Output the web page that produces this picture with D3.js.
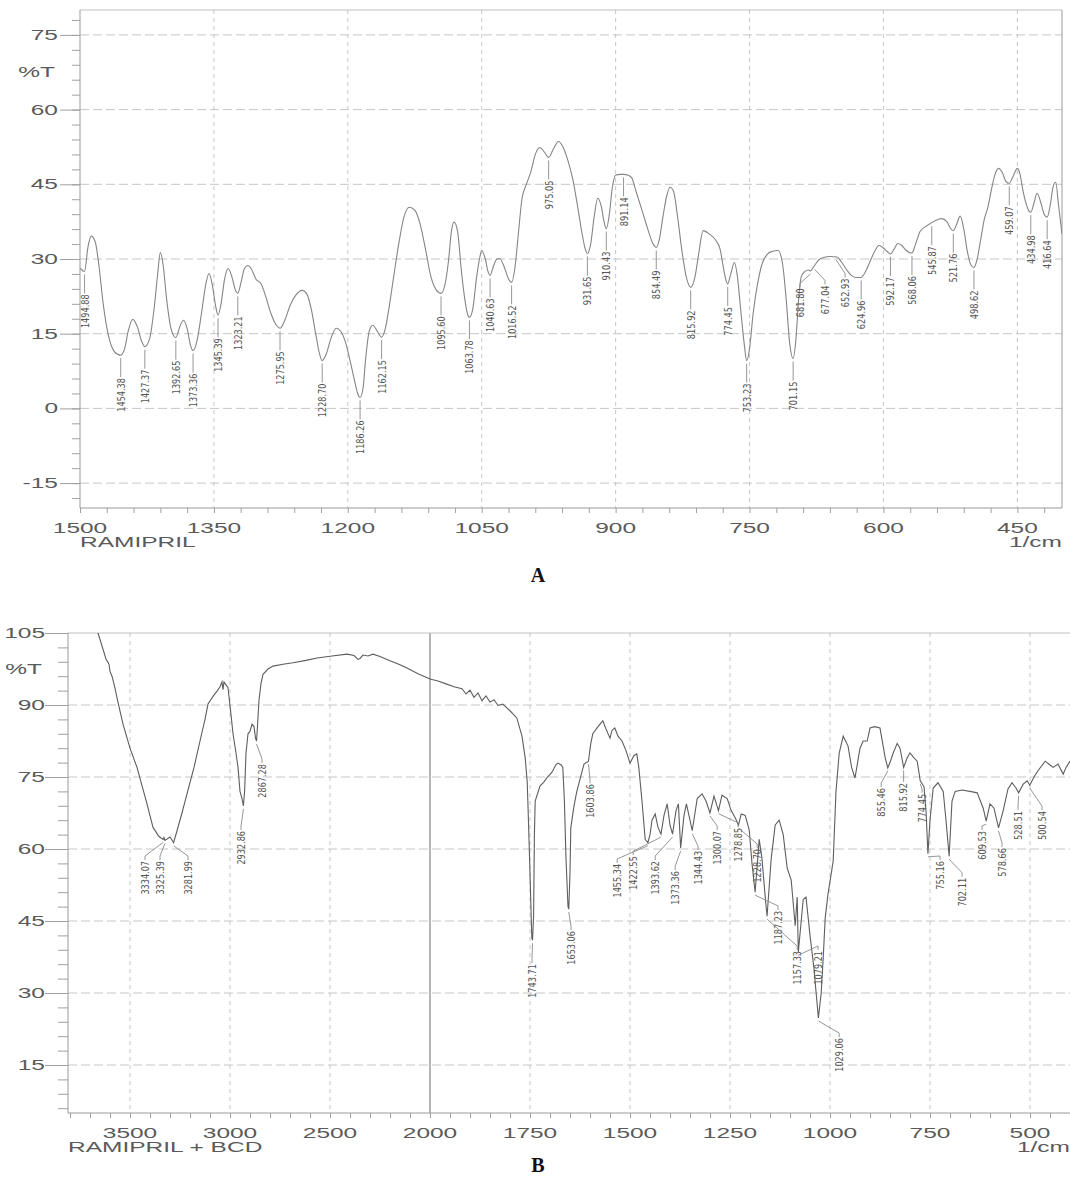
<!DOCTYPE html>
<html>
<head>
<meta charset="utf-8">
<script src="https://cdn.jsdelivr.net/npm/d3@7"></script>
<style>
body { margin: 0; background: #fff; }
svg text { font-family: "Liberation Sans", Arial, sans-serif; }
svg text.peak { font-family: "Liberation Sans Narrow", "Arial Narrow", "DejaVu Sans Condensed", sans-serif; }
svg text.letter { font-family: "Liberation Serif", "Times New Roman", serif; font-weight: bold; }
</style>
</head>
<body>
<div id="chart"></div>
<script>
// Width and height
var chart_width  = 1070;
var chart_height = 1182;

// ---- A : RAMIPRIL (1500 - 400 1/cm)
var wavenumberA = [
  1500, 1495, 1491, 1487.5, 1483, 1479, 1474, 1468, 1462, 1457, 1454.4, 1450, 1446, 1441, 1436, 1431, 1427.4,
  1422, 1417, 1413, 1410, 1407, 1403, 1398, 1392.7, 1388, 1384, 1380, 1376, 1373.4, 1369, 1364, 1359,
  1355.5, 1352, 1348, 1345.4, 1342, 1338, 1334, 1330, 1326, 1323.2, 1320, 1316, 1312, 1308, 1303, 1297,
  1292, 1286, 1280, 1276, 1271, 1265, 1258, 1251, 1246, 1241, 1236, 1232, 1228.7, 1224, 1219, 1213,
  1208, 1203, 1198, 1193, 1189, 1186.3, 1183, 1180, 1176, 1172, 1167, 1162.2, 1158, 1154, 1149, 1143,
  1137, 1131, 1125, 1119, 1113, 1107, 1101, 1095.6, 1091, 1087, 1084, 1081, 1077, 1073, 1069, 1066,
  1063.8, 1060, 1056, 1052, 1050, 1046, 1043, 1040.6, 1037, 1033, 1030, 1025, 1020, 1016.5, 1013, 1009,
  1005, 1000, 995, 990, 985, 980, 975, 970, 964, 959, 953, 948, 943, 938, 934, 931.7, 928, 924, 920,
  916, 913, 910.4, 907, 904, 900, 895, 891, 886, 882, 877, 870, 864, 858, 854.5, 851, 847, 843, 839,
  835, 831, 826, 821, 815.9, 811, 807, 802, 795, 788, 783, 779, 776, 774.5, 771, 767, 764, 760, 756,
  753.2, 750, 746, 741, 736, 730, 725, 718, 713, 709, 705, 701.2, 698, 695, 692, 688, 684, 681.8, 678,
  672, 667, 660, 652, 647, 641, 636, 631, 625, 620, 615, 610, 605, 600, 596, 592.2, 588, 584, 580, 575,
  571, 568.1, 564, 559, 553, 547, 541, 535, 529, 525, 521.8, 518, 514, 510, 506, 502, 498.6, 495, 491,
  487, 483, 479, 475, 471, 467, 463, 459.1, 455, 450, 447, 444, 440, 437, 435, 431, 428, 424, 420,
  416.6, 413, 410, 407, 404, 400
];
var transmittanceA = [
  28.2, 27.5, 32.5, 34.6, 33.5, 29, 21, 14.5, 11.5, 10.8, 10.7, 12, 15.5, 17.9, 16.5, 13.5, 12.4,
  14, 20, 27, 31.3, 29, 22, 16, 14.2, 16.5, 17.7, 16, 12.5, 11.6, 13.5, 19, 25,
  27.1, 25, 20.5, 18.7, 21, 26, 28.1, 26.5, 23.8, 23.1, 25, 28, 28.7, 28, 26, 25,
  22.5, 19, 16.7, 16.1, 17.5, 20.5, 22.8, 23.7, 23, 20, 15, 11.2, 9.6, 11, 14, 16.1,
  15.5, 13.5, 10, 6, 3, 2.2, 4, 10, 15.5, 16.7, 15.5, 14.3, 16, 20, 26, 33,
  38.5, 40.4, 39.8, 37, 32, 26.5, 23.8, 23.1, 25, 30, 35.5, 37.4, 35.5, 28, 22, 19,
  18.3, 20, 26, 30.5, 31.7, 30, 27.5, 26.7, 28.5, 30, 30.1, 28.5, 26, 25.3, 28, 35,
  42, 45, 47.5, 51, 52.4, 51.5, 50.4, 52, 53.6, 52.5, 49.5, 46, 41, 35.5, 32, 31.1, 33, 38.5, 42.2,
  40.5, 37.5, 36.1, 39, 44, 46.8, 47, 47, 46.8, 46.3, 43.5, 39.5, 36, 33, 32.3, 34, 38.5, 42.5, 44.4,
  43.5, 39, 32, 26.5, 24.3, 26.5, 31, 35.7, 35, 33.8, 32, 28, 25.5, 25, 27, 29.3, 27, 20, 13,
  9.6, 12, 19, 25, 29, 31, 31.5, 31.7, 29, 22, 13, 10, 14, 22, 26.5, 27.5, 27.8, 27.6, 28.5,
  29.9, 30.3, 30.5, 30.4, 29.4, 27.8, 26.7, 26.3, 26.3, 27.5, 29.5, 31.5, 32.7, 32.2, 31.5, 31, 32, 33.1, 32.8, 31.8,
  31.3, 31.2, 33, 35.5, 36.5, 37.2, 37.8, 38.1, 37.5, 36.2, 35.7, 37, 38.6, 36, 31.5, 28.8, 28.3, 30, 34,
  38, 40.4, 44, 47, 48.2, 47.4, 45.6, 45.2, 46.5, 48.2, 47, 44, 41, 39.6, 39.4, 41.5, 43.2, 41.5, 39,
  38.4, 41, 44.5, 45.4, 41, 35
];
var peaksA = [
  1494.88, 1454.38, 1427.37, 1392.65, 1373.36, 1345.39, 1323.21, 1275.95, 1228.70, 1186.26, 1162.15,
  1095.60, 1063.78, 1040.63, 1016.52, 975.05, 931.65, 910.43, 891.14, 854.49, 815.92, 774.45, 753.23,
  701.15, 681.80, 677.04, 652.93, 624.96, 592.17, 568.06, 545.87, 521.76, 498.62, 459.07, 434.98, 416.64
];

// ---- B : RAMIPRIL + BCD (3800 - 400 1/cm)
var wavenumberB = [
  3700, 3660, 3620, 3605, 3600, 3590, 3575, 3565, 3535, 3500, 3465, 3415, 3385, 3355, 3334.07, 3330,
  3325.39, 3300, 3281.99, 3265, 3240, 3215, 3180, 3150, 3125, 3110, 3085, 3065, 3050, 3040, 3035, 3030,
  3020, 3010, 2995, 2985, 2970, 2960, 2950, 2940, 2932.86, 2927, 2920, 2910, 2900, 2890, 2880, 2872,
  2867.28, 2862, 2855, 2845, 2835, 2810, 2785, 2735, 2685, 2620, 2565, 2490, 2415, 2380, 2360, 2350,
  2335, 2310, 2285, 2250, 2200, 2150, 2115, 2060, 2000, 1980, 1960, 1940, 1920, 1910, 1900, 1890,
  1880, 1870, 1860, 1850, 1840, 1830, 1818, 1800, 1783, 1770, 1762, 1757, 1755, 1750, 1745.5, 1743.71,
  1741, 1739, 1737, 1725, 1715, 1708, 1695, 1685, 1680, 1672, 1668, 1664, 1660, 1655, 1653.06, 1650,
  1648, 1640, 1633, 1622, 1615, 1603.86, 1598, 1593, 1580, 1568, 1560, 1550, 1545, 1538, 1530, 1520,
  1510, 1500, 1490, 1483, 1478, 1470, 1462, 1455.34, 1450, 1445, 1437, 1430, 1422.55, 1415, 1407, 1400,
  1393.62, 1385, 1379, 1373.36, 1365, 1359, 1350, 1344.43, 1332, 1320, 1310, 1300.07, 1290, 1278.85, 1270, 1257,
  1247, 1237, 1228.70, 1222, 1212, 1202, 1195, 1187.23, 1177, 1170, 1162, 1157.33, 1147, 1137, 1127, 1117,
  1107, 1097, 1087, 1082, 1079.21, 1067, 1060, 1050, 1040, 1029.06, 1022, 1017, 1012, 1005, 992, 985,
  977, 967, 955, 946, 937.5, 930, 925, 917, 907, 900, 888, 875, 862, 855.46, 848, 842,
  832, 825, 815.92, 807, 800, 790, 782, 774.45, 765, 760, 755.16, 750, 742, 730, 717, 710,
  702.11, 695, 687, 670, 650, 632, 617, 609.53, 600, 590, 578.66, 567, 555, 545, 535, 528.51,
  517, 507, 500.54, 490, 480, 462, 450, 442, 430, 417, 410, 400
];
var transmittanceB = [
  108, 105, 99.6, 98.5, 97, 96, 93.5, 91.5, 86, 81, 77, 69.4, 64.5, 62.6, 62.0, 62.4,
  61.8, 62.5, 61.3, 63.8, 67.5, 71.5, 77, 82.5, 87, 90.2, 91.8, 92.9, 93.8, 94.8, 93.2, 94.8,
  94.2, 93.6, 88, 84, 80, 77, 72, 70.5, 69, 72, 80, 84, 84.5, 86, 85.5, 83,
  82.5, 86, 91, 94.5, 96.4, 97.5, 98.1, 98.5, 98.8, 99.3, 99.8, 100.2, 100.6, 100.3, 99.5, 99.7,
  100.4, 100.2, 100.6, 100.1, 99.2, 98.4, 97.7, 96.5, 95.4, 95, 94.4, 93.8, 93.4, 92.3, 93.1, 91.6,
  92.5, 90.9, 91.9, 90.6, 91.1, 89.9, 90.2, 88.8, 87.3, 83.5, 79, 74, 69, 55, 41.5, 41,
  46, 63, 70, 73.1, 74, 74.8, 76, 77.6, 77.9, 77.5, 77, 70, 58, 48, 47.5, 55,
  64.4, 69, 72, 75.5, 77.7, 78.3, 82, 84, 85.5, 86.7, 85, 83.1, 84.7, 85.2, 83.5, 82.5,
  80.5, 77.9, 79.5, 79.8, 77, 70, 62, 61.3, 63, 66, 67.3, 64.5, 63.1, 67, 69.4, 65,
  63.1, 68, 69.4, 60.2, 67, 69.4, 66, 63.8, 70.5, 71.5, 70, 67.5, 71, 68, 71.2, 70.5,
  68, 66.5, 65, 67.3, 67, 64, 57, 51, 62, 58, 50, 46, 58, 65, 66, 63,
  56, 53.5, 44, 50, 38.5, 49.5, 50, 42, 35, 24.8, 30, 37.3, 45.6, 50.6, 57.5, 72,
  80, 83.5, 81.5, 77, 74.8, 78.5, 81, 82.5, 82.5, 85.2, 85.5, 85.2, 79, 76.9, 78.5, 80,
  82, 81, 77, 79, 80, 79, 78.3, 74.2, 73, 68, 59, 66, 72.7, 73.8, 72, 66,
  58.5, 70, 72, 72.3, 72, 71.7, 68.5, 65.8, 69.4, 68.5, 64.4, 68, 72.5, 73.8, 72.7, 71.7,
  73.5, 74.2, 73.3, 75, 76.3, 78.3, 77.5, 77, 77.7, 75.6, 77, 78.3
];
var peaksB = [
  3334.07, 3325.39, 3281.99, 2932.86, 2867.28, 1743.71, 1653.06, 1603.86, 1455.34, 1422.55, 1393.62,
  1373.36, 1344.43, 1300.07, 1278.85, 1228.70, 1187.23, 1157.33, 1079.21, 1029.06, 855.46, 815.92,
  774.45, 755.16, 702.11, 609.53, 578.66, 528.51, 500.54
];

// label placement (where the printer moved a label off its peak)
var labelMoveA = { 24: [693.5, 24.1], 25: [665.5, 24.7], 26: [643, 26.1] };
var labelWnB = [3425, 3350, 3210, 2945, 2840, 1745, 1647.5, 1600, 1532, 1492, 1437, 1387, 1330, 1282,
  1230, 1182, 1130, 1082, 1030, 977, 872, 817, 770, 725, 670, 620, 570, 530, 470];
var labelTopB = [57.5, 57.5, 57.5, 63.75, 77.7, 36, 42.9, 73.5, 56.9, 58.5, 57.5, 55.4, 59.6, 63.75,
  64.4, 60, 47.1, 38.75, 38.75, 20.6, 72.7, 73.75, 71.5, 57.5, 54, 63.75, 60.2, 67.9, 67.9];

var svg = d3.select("#chart")
    .append("svg")
    .attr("width", chart_width)
    .attr("height", chart_height);

var panels = [
  {
    id: 'A',
    x: d3.scaleLinear().domain([1500, 400]).range([80, 1062]),
    y: d3.scaleLinear().domain([-20, 80]).range([508, 10]),
    wn: wavenumberA, t: transmittanceA,
    xMajor: [1500, 1350, 1200, 1050, 900, 750, 600, 450],
    xGrid: [1350, 1200, 1050, 900, 750, 600, 450],
    xMinor: d3.range(1500, 400, -30),
    yMajor: [75, 60, 45, 30, 15, 0, -15],
    yMinor: d3.range(-18, 80, 3),
    yMajorLen: 20, yMinorLen: 8,
    labelGap: 22,
    pctT: 67.5,
    name: 'RAMIPRIL',
    rightBorder: true,
    smooth: true,
    stroke: '#858585',
    letterY: 582
  },
  {
    id: 'B',
    x: d3.scaleLinear().domain([3810, 2000, 400]).range([68, 430, 1070]),
    y: d3.scaleLinear().domain([5, 105]).range([1113, 633]),
    wn: wavenumberB, t: transmittanceB,
    xMajor: [3500, 3000, 2500, 2000, 1750, 1500, 1250, 1000, 750, 500],
    xGrid: [3500, 3000, 2500, 1750, 1500, 1250, 1000, 750, 500],
    xMinor: d3.range(3800, 2000, -100).concat(d3.range(2000, 399, -50)),
    yMajor: [105, 90, 75, 60, 45, 30, 15],
    yMinor: d3.range(6, 106, 3),
    yMajorLen: 23, yMinorLen: 10,
    labelGap: 23,
    pctT: 97.5,
    name: 'RAMIPRIL + BCD',
    rightBorder: false,
    smooth: false,
    stroke: '#5e5e5e',
    letterY: 1172
  }
];

panels.forEach(function(p) {
  var x = p.x, y = p.y;
  var xr = x.range(), x0 = xr[0], x1 = xr[xr.length - 1];
  var yBot = y.range()[0], yTop = y.range()[1];
  var g = svg.append('g').attr('id', 'panel' + p.id);

  // grid
  g.selectAll('.hgrid')
    .data(p.yMajor.filter(function(d) { return y(d) > yTop + 1; }))
    .enter().append('line')
    .attr('x1', x0).attr('x2', x1)
    .attr('y1', function(d) { return y(d); })
    .attr('y2', function(d) { return y(d); })
    .attr('stroke', '#c6c6c6')
    .attr('stroke-dasharray', '9,4');

  g.selectAll('.vgrid')
    .data(p.xGrid)
    .enter().append('line')
    .attr('x1', function(d) { return x(d); })
    .attr('x2', function(d) { return x(d); })
    .attr('y1', yTop).attr('y2', yBot)
    .attr('stroke', '#c6c6c6')
    .attr('stroke-dasharray', '4,4');

  if (p.id === 'B') {
    g.append('line')
      .attr('x1', x(2000)).attr('x2', x(2000))
      .attr('y1', yTop).attr('y2', yBot)
      .attr('stroke', '#8c8c8c').attr('stroke-width', 1.3);
  }

  // frame
  g.append('line').attr('x1', x0).attr('x2', x1).attr('y1', yTop).attr('y2', yTop)
    .attr('stroke', '#c0c0c0');
  g.append('line').attr('x1', x0).attr('x2', x1).attr('y1', yBot).attr('y2', yBot)
    .attr('stroke', '#9a9a9a');
  g.append('line').attr('x1', x0).attr('x2', x0).attr('y1', yTop).attr('y2', yBot)
    .attr('stroke', '#9a9a9a');
  if (p.rightBorder) {
    g.append('line').attr('x1', x1).attr('x2', x1).attr('y1', yTop).attr('y2', yBot)
      .attr('stroke', '#9a9a9a');
  }

  // ticks
  var tickParts = [
    g.append('g').attr('transform', 'translate(0,' + yBot + ')')
      .call(d3.axisBottom(x).tickValues(p.xMinor).tickSize(5).tickFormat('')),
    g.append('g').attr('transform', 'translate(' + x0 + ',0)')
      .call(d3.axisLeft(y).tickValues(p.yMinor).tickSize(p.yMinorLen).tickFormat('')),
    g.append('g').attr('transform', 'translate(' + x0 + ',0)')
      .call(d3.axisLeft(y).tickValues(p.yMajor).tickSize(p.yMajorLen).tickFormat(''))
  ];
  tickParts.forEach(function(a) {
    a.select('.domain').remove();
    a.selectAll('line').attr('stroke', '#a0a0a0');
  });

  // tick labels (the plotter font is stretched sideways)
  g.selectAll('.xlab')
    .data(p.xMajor)
    .enter().append('text')
    .attr('transform', function(d) { return 'translate(' + x(d) + ',' + (yBot + 25) + ') scale(1.75,1)'; })
    .attr('text-anchor', 'middle')
    .attr('font-size', 14)
    .attr('fill', '#5a5a5a')
    .text(function(d) { return d; });

  g.selectAll('.ylab')
    .data(p.yMajor)
    .enter().append('text')
    .attr('transform', function(d) { return 'translate(' + (x0 - p.labelGap) + ',' + (y(d) + 5) + ') scale(1.75,1)'; })
    .attr('text-anchor', 'end')
    .attr('font-size', 14)
    .attr('fill', '#5a5a5a')
    .text(function(d) { return d; });

  g.append('text')
    .attr('transform', 'translate(' + (x0 - p.labelGap - 3) + ',' + (y(p.pctT) + 5) + ') scale(1.75,1)')
    .attr('text-anchor', 'end')
    .attr('font-size', 14)
    .attr('fill', '#5a5a5a')
    .text('%T');

  g.append('text')
    .attr('transform', 'translate(' + x0 + ',' + (yBot + 39) + ') scale(1.75,1)')
    .attr('font-size', 14)
    .attr('fill', '#5a5a5a')
    .text(p.name);

  g.append('text')
    .attr('transform', 'translate(' + x1 + ',' + (yBot + 39) + ') scale(1.75,1)')
    .attr('text-anchor', 'end')
    .attr('font-size', 14)
    .attr('fill', '#5a5a5a')
    .text('1/cm');

  // spectrum
  g.append('clipPath').attr('id', 'clip' + p.id)
    .append('rect')
    .attr('x', x0).attr('y', yTop)
    .attr('width', x1 - x0).attr('height', yBot - yTop);

  var pts = p.wn.map(function(d, i) { return [d, p.t[i]]; });
  var line = d3.line()
    .x(function(d) { return x(d[0]); })
    .y(function(d) { return y(d[1]); })
    .curve(p.smooth ? d3.curveMonotoneX : d3.curveLinear);

  g.append('path')
    .datum(pts)
    .attr('clip-path', 'url(#clip' + p.id + ')')
    .attr('d', line)
    .attr('fill', 'none')
    .attr('stroke', p.stroke)
    .attr('stroke-width', 1.1);

  // panel letter
  svg.append('text')
    .attr('class', 'letter')
    .attr('x', 538).attr('y', p.letterY)
    .attr('text-anchor', 'middle')
    .attr('font-size', 20)
    .attr('fill', '#111')
    .text(p.id);
});

// peak labels
function peakY(wn, t, v) {
  var i = d3.minIndex(wn, function(d) { return Math.abs(d - v); });
  return t[i];
}

function drawPeakLabel(g, px, py, lx, top, txt) {
  var pts = (Math.abs(lx - px) < 0.5)
    ? [[px, py + 3], [px, top - 1]]
    : [[px, py + 3], [lx, top - 5], [lx, top - 1]];
  g.append('path')
    .attr('d', d3.line()(pts))
    .attr('fill', 'none')
    .attr('stroke', '#8a8a8a')
    .attr('stroke-width', 0.9);
  g.append('text')
    .attr('class', 'peak')
    .attr('transform', 'translate(' + (lx + 4) + ',' + top + ') rotate(-90)')
    .attr('text-anchor', 'end')
    .attr('font-size', 11)
    .attr('textLength', txt.length * 4.8)
    .attr('lengthAdjust', 'spacingAndGlyphs')
    .attr('fill', '#555')
    .text(txt);
}

var pA = panels[0], pB = panels[1];
var gA = d3.select('#panelA');
peaksA.forEach(function(v, i) {
  var px = pA.x(v), py = pA.y(peakY(wavenumberA, transmittanceA, v));
  var lx = px, top = py + 23;
  if (labelMoveA[i]) {
    lx = pA.x(labelMoveA[i][0]);
    top = pA.y(labelMoveA[i][1]);
  }
  drawPeakLabel(gA, px, py, lx, top, v.toFixed(2));
});

var gB = d3.select('#panelB');
peaksB.forEach(function(v, i) {
  var px = pB.x(v), py = pB.y(peakY(wavenumberB, transmittanceB, v));
  drawPeakLabel(gB, px, py, pB.x(labelWnB[i]), pB.y(labelTopB[i]), v.toFixed(2));
});
</script>
</body>
</html>
